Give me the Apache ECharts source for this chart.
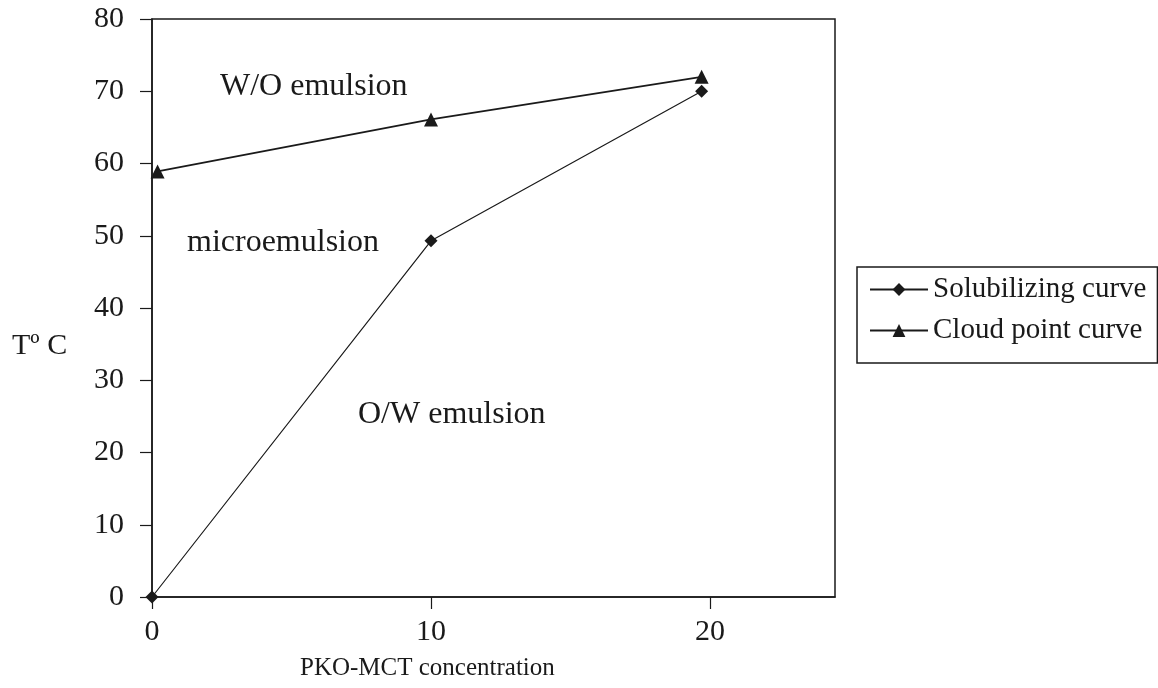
<!DOCTYPE html>
<html>
<head>
<meta charset="utf-8">
<title>PKO-MCT phase diagram</title>
<script src="https://cdn.jsdelivr.net/npm/echarts@6/dist/echarts.min.js"></script>
<style>
    html, body { margin: 0; padding: 0; background: #fff; }
    #chart { width: 1158px; height: 688px; }
</style>
</head>
<body>
<div id="chart"></div>
<script>
// values
const solubX = [0, 10, 19.7];
const solubY = [0, 49.3, 70];
const cloudX = [0.2, 10, 19.7];
const cloudY = [58.9, 66.1, 72];
const seriesNames = ["Solubilizing curve", "Cloud point curve"];
const regionLabels = ["W/O emulsion", "microemulsion", "O/W emulsion"];
const xTitle = "PKO-MCT concentration";
const yTitle = "T\u00ba C";

const FONT = "'Liberation Serif', 'Times New Roman', serif";
const INK = "#1a1a1a";

function pairs(xs, ys) {
    return xs.map((x, i) => [x, ys[i]]);
}

// plain text placed on the canvas (region names, axis titles)
function label(text, x, y, size) {
    return {
        type: "text",
        x: x,
        y: y,
        style: {
            text: text,
            font: size + "px " + FONT,
            fill: INK,
            verticalAlign: "middle",
        },
    };
}

const chart = echarts.init(document.getElementById("chart"));

chart.setOption({
    backgroundColor: "#fff",
    animation: false,
    textStyle: { fontFamily: FONT, color: INK },
    grid: {
        left: 152,
        right: 323,
        top: 19,
        bottom: 91,
        show: true,
        borderColor: INK,
        borderWidth: 1.5,
    },
    legend: {
        orient: "vertical",
        left: 857,
        top: 267,
        padding: [8, 11, 18, 12],
        itemWidth: 58,
        itemHeight: 16,
        itemGap: 12,
        borderColor: INK,
        borderWidth: 1.5,
        borderRadius: 0,
        textStyle: { fontFamily: FONT, fontSize: 29, lineHeight: 29, color: INK },
        data: seriesNames,
    },
    xAxis: {
        type: "value",
        min: 0,
        max: 24.48,
        interval: 10,
        axisLine: { lineStyle: { color: INK, width: 1.5 } },
        axisTick: { length: 12, lineStyle: { color: INK, width: 1.2 } },
        axisLabel: {
            fontFamily: FONT,
            fontSize: 30,
            color: INK,
            margin: 20,
            showMaxLabel: false,
        },
        splitLine: { show: false },
    },
    yAxis: {
        type: "value",
        min: 0,
        max: 80,
        interval: 10,
        axisLine: { lineStyle: { color: INK, width: 1.5 } },
        axisTick: { length: 12, lineStyle: { color: INK, width: 1.2 } },
        axisLabel: { fontFamily: FONT, fontSize: 30, color: INK, margin: 28 },
        splitLine: { show: false },
    },
    graphic: [
        label(regionLabels[0], 220, 87, 32),
        label(regionLabels[1], 187, 243, 32),
        label(regionLabels[2], 358, 415, 32),
        label(xTitle, 300, 668, 25),
        label(yTitle, 12, 346, 30),
    ],
    series: [
        {
            name: seriesNames[0],
            type: "line",
            data: pairs(solubX, solubY),
            symbol: "diamond",
            symbolSize: 13,
            itemStyle: { color: INK },
            lineStyle: { color: INK, width: 1.2 },
        },
        {
            name: seriesNames[1],
            type: "line",
            data: pairs(cloudX, cloudY),
            symbol: "triangle",
            symbolSize: 14,
            itemStyle: { color: INK },
            lineStyle: { color: INK, width: 1.8 },
        },
    ],
});
</script>
</body>
</html>
